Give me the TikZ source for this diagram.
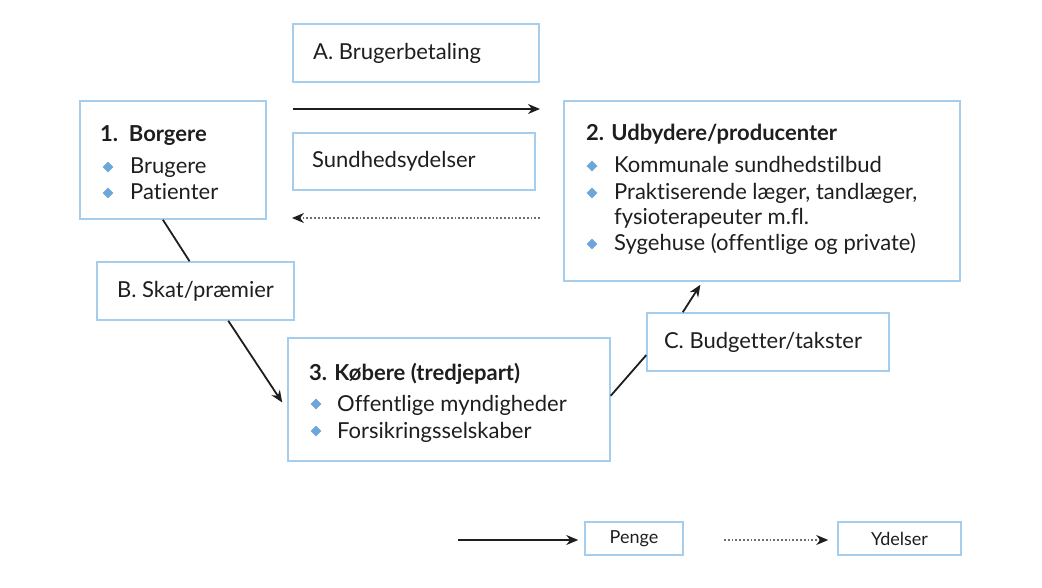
\documentclass[tikz,border=0pt]{standalone}
\usepackage{fontspec}
\setmainfont{Lato}[Ligatures=NoCommon]
\usetikzlibrary{arrows.meta,calc,shapes.geometric}
\definecolor{boxblue}{HTML}{A6CDEC}
\definecolor{bulblue}{HTML}{6CA6DA}
\definecolor{ink}{HTML}{1E1E1E}
\tikzset{
  frame/.style={draw=boxblue,line width=1.5pt,rectangle,inner sep=0pt},
  txt/.style={anchor=base west,inner sep=0pt,text=ink,font=\fontsize{22}{24}\selectfont},
  ttl/.style={txt,font=\fontsize{22}{24}\selectfont\bfseries},
  ctxt/.style={inner sep=0pt,text=ink,font=\fontsize{22}{24}\selectfont},
  ltxt/.style={inner sep=0pt,text=ink,font=\fontsize{18}{20}\selectfont},
  bul/.style={diamond,fill=bulblue,inner sep=0pt,minimum width=11pt,minimum height=11pt},
  money/.style={draw=ink,line width=1.8pt,-{Stealth[length=12pt,width=10pt]}},
  serv/.style={draw=ink!65,line width=1.8pt,dotted,-{Stealth[length=12pt,width=10pt,color=ink]}},
  plain/.style={draw=ink,line width=1.8pt},
}
\begin{document}
\begin{tikzpicture}[x=1pt,y=-1pt]
\useasboundingbox (0,0) rectangle (1042,588);
% boxes
\node[frame,minimum width=186pt,minimum height=118pt] (box1) at (173,160) {};
\node[frame,minimum width=246pt,minimum height=58pt] (boxA) at (416,53) {};
\node[frame,minimum width=242pt,minimum height=57pt] (boxS) at (414,161.5) {};
\node[frame,minimum width=396pt,minimum height=180pt] (box2) at (762,191) {};
\node[frame,minimum width=197pt,minimum height=58pt] (boxB) at (195.5,291) {};
\node[frame,minimum width=322pt,minimum height=123pt] (box3) at (449,399.5) {};
\node[frame,minimum width=242pt,minimum height=58pt] (boxC) at (768,342) {};
\node[frame,minimum width=98pt,minimum height=33pt] (boxP) at (634,538.5) {};
\node[frame,minimum width=123pt,minimum height=33pt] (boxY) at (899.5,538.5) {};
% texts box 1
\node[ttl] (t1) at (100,142) {1.\ \ Borgere};
\node[bul] (b11) at (108,167) {};
\node[txt] (t11) at (130,174) {Brugere};
\node[bul] (b12) at (108,193) {};
\node[txt] (t12) at (130,200) {Patienter};
% A and S
\node[txt] (tA) at (313,60) {A. Brugerbetaling};
\node[txt] (tS) at (312,168) {Sundhedsydelser};
% box 2
\node[ttl] (t2) at (586,141) {2. Udbydere/producenter};
\node[bul] (b21) at (592,166) {};
\node[txt] (t21) at (614,173) {Kommunale sundhedstilbud};
\node[bul] (b22) at (592,193) {};
\node[txt] (t22) at (614,200) {Praktiserende læger, tandlæger,};
\node[txt] (t23) at (614,225) {fysioterapeuter m.fl.};
\node[bul] (b23) at (592,244) {};
\node[txt] (t24) at (614,251) {Sygehuse (offentlige og private)};
% B, C
\node[ctxt] (tB) at (boxB) {B. Skat/præmier};
\node[ctxt] (tC) at ($(boxC)+(-5,0)$) {C. Budgetter/takster};
% box 3
\node[ttl] (t3) at (309,380) {3. Købere (tredjepart)};
\node[bul] (b31) at (316,404) {};
\node[txt] (t31) at (337,411) {Offentlige myndigheder};
\node[bul] (b32) at (316,431) {};
\node[txt] (t32) at (337,438) {Forsikringsselskaber};
% legend texts
\node[ltxt] (tP) at (boxP) {Penge};
\node[ltxt] (tY) at (boxY) {Ydelser};
% arrows top
\coordinate (a1) at (293,109);
\coordinate (a2) at (540,109);
\draw[money] (a1) -- (a2);
\coordinate (s1) at (540,218);
\coordinate (s2) at (292,218);
\draw[serv] (s1) -- (s2);
% box1 -> B -> box3
\draw[plain] ($(box1.south west)!0.446!(box1.south east)$) -- ($(boxB.north west)!0.47!(boxB.north east)$);
\draw[money] ($(boxB.south west)!0.665!(boxB.south east)$) -- ($(box3.west)+(-5,3)$);
% box3 -> C -> box2
\draw[plain] ($(box3.north east)!0.47!(box3.south east)$) -- ($(boxC.north west)!0.72!(boxC.south west)$);
\draw[money] ($(boxC.north west)!0.15!(boxC.north east)$) -- ($(box2.south west)!0.345!(box2.south east)+(0,3)$);
% legend arrows
\coordinate (l1) at (458,540);
\draw[money] (l1) -- ($(boxP.west)+(-6,1.5)$);
\coordinate (l2) at (724,540);
\draw[serv] (l2) -- ($(boxY.west)+(-9,1.5)$);
\end{tikzpicture}
\end{document}
